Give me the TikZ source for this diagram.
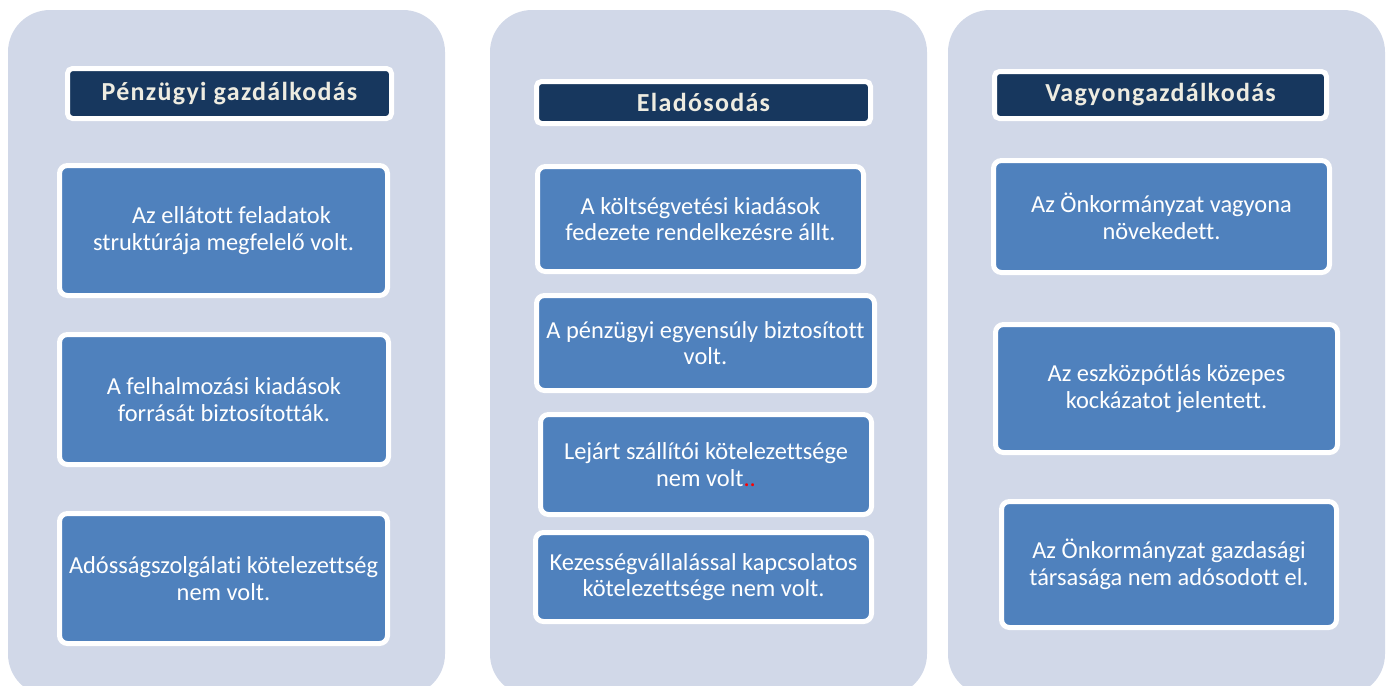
\documentclass[tikz,border=0pt]{standalone}
\usepackage{fontspec}
\setmainfont{Carlito}[Ligatures=NoCommon]
\usetikzlibrary{positioning}
\definecolor{colbg}{HTML}{D1D8E8}
\definecolor{headfill}{HTML}{17375E}
\definecolor{boxfill}{HTML}{4F81BD}
\definecolor{headtext}{HTML}{EEECE1}
\begin{document}
\begin{tikzpicture}[x=0.5pt,y=-0.5pt]
    \tikzstyle{column}=[fill=colbg,rounded corners=21pt]
    \tikzstyle{head}=[draw=white,line width=2.5pt,fill=headfill,rounded corners=2.5pt,text=headtext,inner sep=0pt,font=\fontsize{13}{15}\selectfont\bfseries\addfontfeatures{LetterSpace=5}]
    \tikzstyle{item}=[draw=white,line width=2.5pt,fill=boxfill,rounded corners=4pt,text=white,align=center,inner sep=0pt,font=\fontsize{12.2}{13.3}\selectfont]
    \useasboundingbox (0,0) rectangle (1389,686);
    \clip (0,0) rectangle (1389,686);

    \fill[column] (8,10) rectangle (445,696);
    \fill[column] (490,10) rectangle (927,696);
    \fill[column] (948,10) rectangle (1385,696);

    \node (pg) [head,minimum width=162pt,minimum height=25pt] at (229.5,93.5) {Pénzügyi gazdálkodás};
    \node (pg1) [item,minimum width=164pt,minimum height=65pt] at (223.5,230.5) {\hspace*{8pt}Az ellátott feladatok\\struktúrája megfelelő volt.};
    \node (pg2) [item,minimum width=164.5pt,minimum height=65pt] at (224,399.5) {A felhalmozási kiadások\\forrását biztosították.};
    \node (pg3) [item,minimum width=164pt,minimum height=65pt] at (223.5,578.5) {Adósságszolgálati kötelezettség\\nem volt.};

    \node (el) [head,minimum width=167pt,minimum height=21pt] at (703.5,102.5) {Eladósodás};
    \node (el1) [item,minimum width=163pt,minimum height=52.5pt] at (700.5,219) {A költségvetési kiadások\\fedezete rendelkezésre állt.};
    \node (el2) [item,minimum width=169pt,minimum height=47.5pt] at (705.5,343) {A pénzügyi egyensúly biztosított\\volt.};
    \node (el3) [item,minimum width=165.5pt,minimum height=50pt] at (706,464.5) {Lejárt szállítói kötelezettsége\\nem volt\textcolor{red}{..}};
    \node (el4) [item,minimum width=168pt,minimum height=44.5pt] at (703.5,577) {Kezességvállalással kapcsolatos\\kötelezettsége nem volt.};

    \node (vg) [head,minimum width=166pt,minimum height=23.5pt] at (1160.5,95) {Vagyongazdálkodás};
    \node (vg1) [item,minimum width=168pt,minimum height=56pt] at (1161.5,216.5) {Az Önkormányzat vagyona\\növekedett.};
    \node (vg2) [item,minimum width=171pt,minimum height=64pt] at (1166.5,388.5) {Az eszközpótlás közepes\\kockázatot jelentett.};
    \node (vg3) [item,minimum width=167.5pt,minimum height=63pt] at (1169,564.5) {Az Önkormányzat gazdasági\\társasága nem adósodott el.};
\end{tikzpicture}
\end{document}
